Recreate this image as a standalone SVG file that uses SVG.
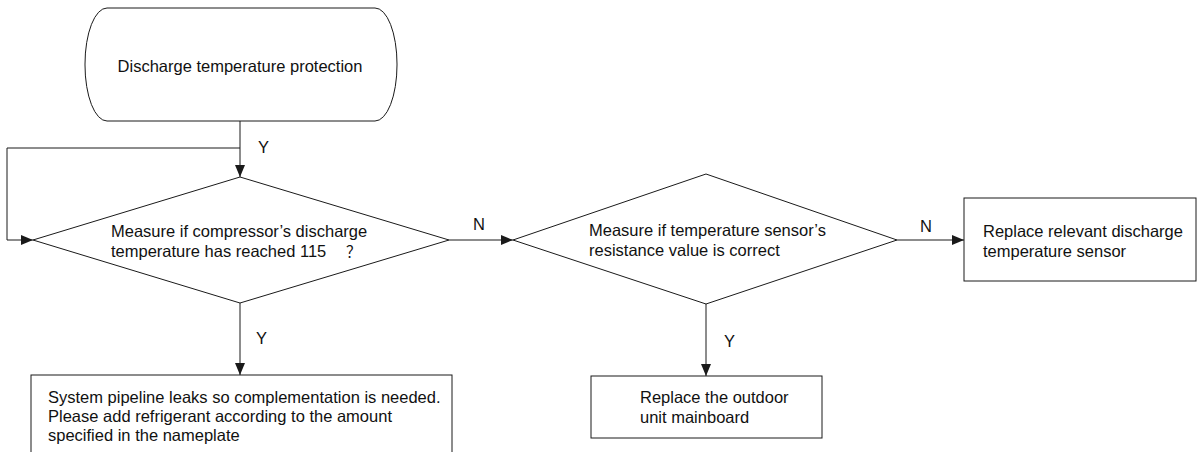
<svg xmlns="http://www.w3.org/2000/svg" width="1197" height="452" viewBox="0 0 1197 452">
<style>
  .shape { fill: #ffffff; stroke: #1a1a1a; stroke-width: 1; }
  .conn { fill: none; stroke: #1a1a1a; stroke-width: 1; }
  text { font-family: "Liberation Sans", Arial, sans-serif; font-size: 16.5px; fill: #111111; }
  .q { font-family: "Liberation Serif", "Noto Sans CJK SC", serif; font-size: 15px; }
</style>
<defs>
  <marker id="arrow" markerUnits="userSpaceOnUse" markerWidth="12" markerHeight="12" viewBox="0 0 12 12" refX="12" refY="6" orient="auto">
    <path d="M0,1 L12,6 L0,11 z" fill="#1a1a1a"/>
  </marker>
</defs>
<rect width="1197" height="452" fill="#ffffff"/>

<g id="connectors">
  <path class="conn" d="M240,121 L240,177" marker-end="url(#arrow)"/>
  <path class="conn" d="M240,148 L7,148 L7,240 L33,240" marker-end="url(#arrow)"/>
  <path class="conn" d="M449,240 L513,240" marker-end="url(#arrow)"/>
  <path class="conn" d="M897,240 L964,240" marker-end="url(#arrow)"/>
  <path class="conn" d="M240,303 L240,375" marker-end="url(#arrow)"/>
  <path class="conn" d="M706,304 L706,376" marker-end="url(#arrow)"/>
  <text x="258" y="153">Y</text>
  <text x="473" y="230">N</text>
  <text x="920" y="232">N</text>
  <text x="256" y="344">Y</text>
  <text x="724" y="347">Y</text>
</g>

<g id="start">
  <rect class="shape" x="85" y="8" width="312" height="113" rx="22" ry="56"/>
  <text x="240" y="72" text-anchor="middle">Discharge temperature protection</text>
</g>

<g id="decision1">
  <polygon class="shape" points="33,240 240,177 449,240 240,303"/>
  <text x="111" y="237">Measure if compressor’s discharge</text>
  <text x="111" y="257">temperature has reached 115<tspan class="q" x="346">？</tspan></text>
</g>

<g id="decision2">
  <polygon class="shape" points="513,240 706,174 897,240 706,304"/>
  <text x="589" y="236">Measure if temperature sensor’s</text>
  <text x="589" y="256">resistance value is correct</text>
</g>

<g id="replace-sensor">
  <rect class="shape" x="964" y="198" width="232" height="83"/>
  <text x="983" y="237">Replace relevant discharge</text>
  <text x="983" y="257">temperature sensor</text>
</g>

<g id="replace-mainboard">
  <rect class="shape" x="591" y="376" width="231" height="62"/>
  <text x="640" y="403">Replace the outdoor</text>
  <text x="640" y="423">unit mainboard</text>
</g>

<g id="add-refrigerant">
  <rect class="shape" x="31" y="375" width="421" height="90"/>
  <text x="48" y="403">System pipeline leaks so complementation is needed.</text>
  <text x="48" y="422">Please add refrigerant according to the amount</text>
  <text x="48" y="441">specified in the nameplate</text>
</g>
</svg>
